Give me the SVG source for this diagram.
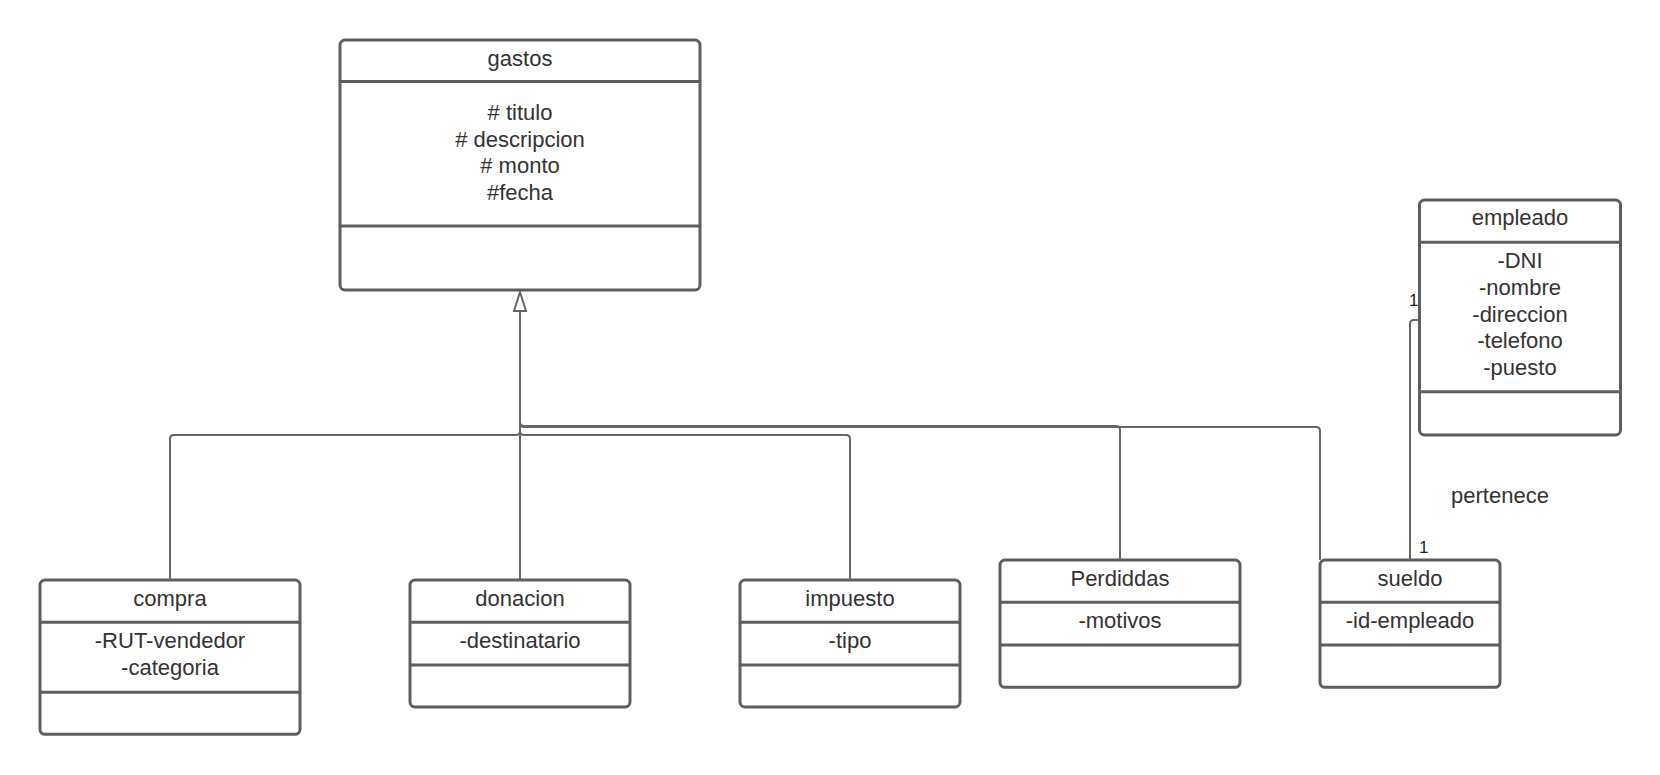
<svg xmlns="http://www.w3.org/2000/svg" width="1660" height="775" viewBox="0 0 1660 775">
<style>
.box{fill:#ffffff;stroke:#5e5e5e;stroke-width:3}
.sep{stroke:#5e5e5e;stroke-width:3}
.con{fill:none;stroke:#666666;stroke-width:2}
text{font-family:"Liberation Sans",Arial,sans-serif;font-size:22px;fill:#333333;text-anchor:middle}
.mult{font-size:17px;text-anchor:start;fill:#222222}
</style>
<rect width="1660" height="775" fill="#ffffff"/>
<g id="connectors">
<path class="con" d="M170,580 V439 Q170,435 174,435 H516 Q520,435 520,431 V311"/>
<path class="con" d="M520,580 V311"/>
<path class="con" d="M850,580 V439 Q850,435 846,435 H524 Q520,435 520,431 V311"/>
<path class="con" d="M1120,560 V430 Q1120,426 1116,426 H524 Q520,426 520,422 V311"/>
<path class="con" d="M1320,560 V431 Q1320,427 1316,427 H524 Q520,427 520,423 V311"/>
<polygon class="con" points="520,292 514,311 526,311" style="fill:#ffffff"/>
<path class="con" d="M1410,560 V324 Q1410,320 1414,320 H1419"/>
<text class="mult" x="1409" y="306">1</text>
<text class="mult" x="1419" y="553">1</text>
<text x="1500" y="503">pertenece</text>
</g>
<g id="gastos">
<rect class="box" x="340" y="40" width="360" height="250" rx="5"/>
<line class="sep" x1="340" y1="81.5" x2="700" y2="81.5"/>
<line class="sep" x1="340" y1="226" x2="700" y2="226"/>
<text x="520" y="66">gastos</text>
<text x="520" y="120"># titulo</text>
<text x="520" y="146.7"># descripcion</text>
<text x="520" y="173.3"># monto</text>
<text x="520" y="200">#fecha</text>
</g>
<g id="empleado">
<rect class="box" x="1419.5" y="200" width="201" height="235" rx="5"/>
<line class="sep" x1="1419.5" y1="242.3" x2="1620.5" y2="242.3"/>
<line class="sep" x1="1419.5" y1="391.7" x2="1620.5" y2="391.7"/>
<text x="1520" y="225">empleado</text>
<text x="1520" y="268.3">-DNI</text>
<text x="1520" y="295">-nombre</text>
<text x="1520" y="321.7">-direccion</text>
<text x="1520" y="348.3">-telefono</text>
<text x="1520" y="375">-puesto</text>
</g>
<g id="compra">
<rect class="box" x="40" y="580" width="260" height="154.3" rx="5"/>
<line class="sep" x1="40" y1="622.3" x2="300" y2="622.3"/>
<line class="sep" x1="40" y1="692.3" x2="300" y2="692.3"/>
<text x="170" y="605.7">compra</text>
<text x="170" y="648.3">-RUT-vendedor</text>
<text x="170" y="675">-categoria</text>
</g>
<g id="donacion">
<rect class="box" x="410" y="580" width="220" height="127" rx="5"/>
<line class="sep" x1="410" y1="622.3" x2="630" y2="622.3"/>
<line class="sep" x1="410" y1="665" x2="630" y2="665"/>
<text x="520" y="605.7">donacion</text>
<text x="520" y="648.3">-destinatario</text>
</g>
<g id="impuesto">
<rect class="box" x="740" y="580" width="220" height="127" rx="5"/>
<line class="sep" x1="740" y1="622.3" x2="960" y2="622.3"/>
<line class="sep" x1="740" y1="665" x2="960" y2="665"/>
<text x="850" y="605.7">impuesto</text>
<text x="850" y="648.3">-tipo</text>
</g>
<g id="perdiddas">
<rect class="box" x="1000" y="560" width="240" height="127.3" rx="5"/>
<line class="sep" x1="1000" y1="602.3" x2="1240" y2="602.3"/>
<line class="sep" x1="1000" y1="645" x2="1240" y2="645"/>
<text x="1120" y="585.7">Perdiddas</text>
<text x="1120" y="628.3">-motivos</text>
</g>
<g id="sueldo">
<rect class="box" x="1320" y="560" width="180" height="127.3" rx="5"/>
<line class="sep" x1="1320" y1="602.3" x2="1500" y2="602.3"/>
<line class="sep" x1="1320" y1="645" x2="1500" y2="645"/>
<text x="1410" y="585.7">sueldo</text>
<text x="1410" y="628.3">-id-empleado</text>
</g>
</svg>
